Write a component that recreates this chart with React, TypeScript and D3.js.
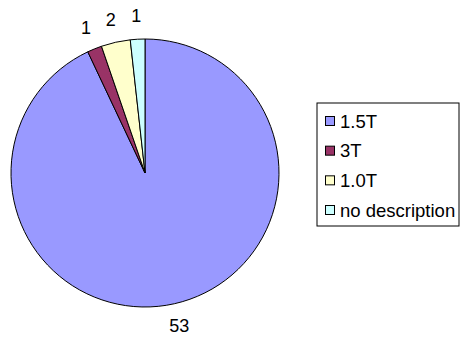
import React from "react";
import * as d3 from "d3";

const categories = ["1.5T", "3T", "1.0T", "no description"];
const values = [53, 1, 2, 1];
const colors = ["#9999FF", "#993366", "#FFFFCC", "#CCFFFF"];

const W = 462;
const H = 338;
const cx = 145;
const cy = 173;
const R = 134;
const labelR = 157;

export default function App() {
  const pie = d3.pie<number>().sort(null).value((d) => d)(values);
  const arc = d3.arc<d3.PieArcDatum<number>>().innerRadius(0).outerRadius(R);
  const legendX = 317;
  const legendY = 103;
  const legendW = 142;
  const legendH = 123;
  const rowY = d3.scaleLinear().domain([0, 3]).range([121, 210]);
  return (
    <svg width={W} height={H} style={{ position: "absolute", left: 0, top: 0, fontFamily: "Liberation Sans, Arial, sans-serif" }}>
      <rect width={W} height={H} fill="#fff" />
      <g transform={`translate(${cx},${cy})`}>
        {pie.map((p, i) => (
          <path key={i} d={arc(p) || ""} fill={colors[i]} stroke="#000" strokeWidth={1} />
        ))}
        {pie.map((p, i) => {
          const a = (p.startAngle + p.endAngle) / 2;
          const x = Math.sin(a) * labelR;
          const y = -Math.cos(a) * labelR;
          return (
            <text key={i} x={x} y={y} textAnchor="middle" dominantBaseline="central" fontSize={18} fill="#000">
              {values[i]}
            </text>
          );
        })}
      </g>
      <rect x={legendX} y={legendY} width={legendW} height={legendH} fill="#fff" stroke="#000" strokeWidth={1} />
      {categories.map((c, i) => (
        <g key={c}>
          <rect x={legendX + 8.5} y={rowY(i) - 4.5} width={9} height={9} fill={colors[i]} stroke="#000" strokeWidth={1} />
          <text x={legendX + 23} y={rowY(i)} dominantBaseline="central" fontSize={18.5} fill="#000">
            {c}
          </text>
        </g>
      ))}
    </svg>
  );
}
